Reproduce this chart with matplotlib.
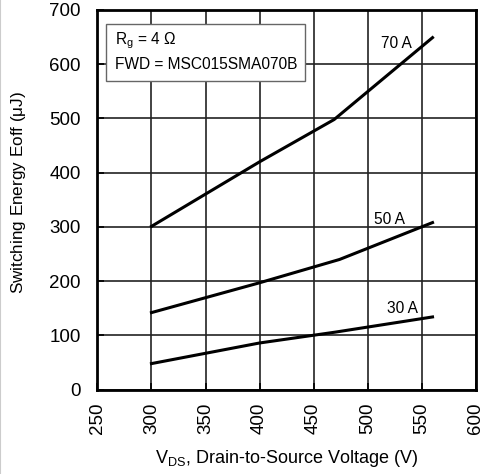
import numpy as np
import matplotlib.pyplot as plt
from matplotlib.lines import Line2D
from matplotlib.patches import Rectangle

plt.rcParams['font.family'] = ['Liberation Sans', 'DejaVu Sans']

# switching energy Eoff vs drain-source voltage
vds_30 = [300, 400, 470, 560]
eoff_30 = [48, 86, 106, 134]

vds_50 = [300, 400, 474, 560]
eoff_50 = [142, 197, 240, 308]

vds_70 = [300, 400, 469, 560]
eoff_70 = [301, 420, 498, 649]

curve_labels = ['30 A', '50 A', '70 A']
label_pos = [(532, 149), (520, 314), (527, 638)]

x_ticks = [250, 300, 350, 400, 450, 500, 550, 600]
y_ticks = [0, 100, 200, 300, 400, 500, 600, 700]

fig = plt.figure(figsize=(4.92, 4.74), dpi=100)
ax = fig.add_axes([0.198, 0.178, 0.769, 0.801])

for v, e in [(vds_30, eoff_30), (vds_50, eoff_50), (vds_70, eoff_70)]:
    ax.plot(v, e, color='black', linewidth=2.2, solid_joinstyle='miter', zorder=3)

for lab, (x, y) in zip(curve_labels, label_pos):
    ax.text(x, y, lab, fontsize=11.2, ha='center', va='center')

ax.set_xlim(250, 600)
ax.set_ylim(0, 700)
ax.set_xticks(x_ticks)
ax.set_yticks(y_ticks)
ax.set_xticklabels([str(t) for t in x_ticks], rotation=90)
ax.tick_params(direction='in', length=5, width=1.2, labelsize=13.5)
ax.tick_params(axis='x', pad=9)
ax.tick_params(axis='y', pad=12)
ax.grid(True, color='#222222', linewidth=1.2)
for s in ax.spines.values():
    s.set_linewidth(2.0)

ax.set_xlabel(r'V$_{\mathregular{DS}}$, Drain-to-Source Voltage (V)', fontsize=13)
ax.xaxis.set_label_coords(0.5, -0.155)
ax.set_ylabel(r'Switching Energy Eoff ($\mathregular{\mu}$J)', fontsize=12.3)
ax.yaxis.set_label_coords(-0.183, 0.52)

# conditions box
ax.add_patch(Rectangle((0.022, 0.812), 0.527, 0.150, transform=ax.transAxes,
                       facecolor='white', edgecolor='#666666', linewidth=1.0, zorder=4))
ax.text(0.046, 0.92, 'R$_{\\mathregular{g}}$ = 4 \u03a9', transform=ax.transAxes,
        fontsize=11.2, ha='left', va='center', zorder=5)
ax.text(0.046, 0.857, 'FWD = MSC015SMA070B', transform=ax.transAxes,
        fontsize=11.2, ha='left', va='center', zorder=5)

fig.add_artist(Line2D([0.001, 0.001], [0, 1], color='#cccccc', linewidth=1.5, transform=fig.transFigure))

plt.savefig('out.png', dpi=100)
